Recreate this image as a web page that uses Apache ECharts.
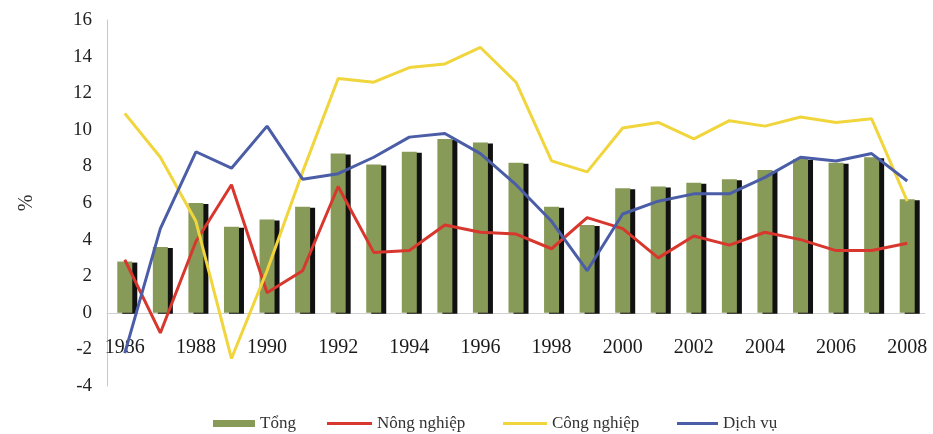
<!DOCTYPE html>
<html><head><meta charset="utf-8">
<script src="https://cdn.jsdelivr.net/npm/echarts@6/dist/echarts.min.js"></script>
<style>html,body{margin:0;padding:0;background:#fff}#c{width:933px;height:434px}</style>
</head><body><div id="c"></div>
<script>
const years = ['1986','1987','1988','1989','1990','1991','1992','1993','1994','1995','1996','1997','1998','1999','2000','2001','2002','2003','2004','2005','2006','2007','2008'];
const tong = [2.8,3.6,6.0,4.7,5.1,5.8,8.7,8.1,8.8,9.5,9.3,8.2,5.8,4.8,6.8,6.9,7.1,7.3,7.8,8.4,8.2,8.5,6.2];
const nongNghiep = [2.9,-1.1,3.9,7.0,1.1,2.3,6.9,3.3,3.4,4.8,4.4,4.3,3.5,5.2,4.6,3.0,4.2,3.7,4.4,4.0,3.4,3.4,3.8];
const congNghiep = [10.9,8.5,5.0,-2.5,2.3,7.7,12.8,12.6,13.4,13.6,14.5,12.6,8.3,7.7,10.1,10.4,9.5,10.5,10.2,10.7,10.4,10.6,6.1];
const dichVu = [-2.2,4.6,8.8,7.9,10.2,7.3,7.6,8.5,9.6,9.8,8.7,7.0,5.0,2.3,5.4,6.1,6.5,6.5,7.4,8.5,8.3,8.7,7.2];
const yTicks = [-4,16,2];
const font = 'Liberation Serif';
const gridTop = 20, gridBottom = 48, H = 434;
const plotH = H - gridTop - gridBottom;
// distance of the zero line above the bottom of the plot, from the value range
const zeroShift = plotH * (0 - yTicks[0]) / (yTicks[1] - yTicks[0]);
const chart = echarts.init(document.getElementById('c'));
const legendText = {fontFamily: font, fontSize: 17, color: '#333'};
const lg = {bottom: 2, padding: 0, textStyle: legendText};
chart.setOption({
  animation: false,
  grid: {left: 107, right: 8, top: gridTop, bottom: gridBottom},
  legend: [
    Object.assign({data: [{name: 'Tổng', icon: 'rect'}], left: 213, itemWidth: 42, itemHeight: 7}, lg),
    Object.assign({data: [{name: 'Nông nghiệp', icon: 'rect'}], left: 327, itemWidth: 45, itemHeight: 3}, lg),
    Object.assign({data: [{name: 'Công nghiệp', icon: 'rect'}], left: 503, itemWidth: 44, itemHeight: 3}, lg),
    Object.assign({data: [{name: 'Dịch vụ', icon: 'rect'}], left: 677, itemWidth: 41, itemHeight: 3}, lg)
  ],
  xAxis: {
    type: 'category', data: years,
    offset: -zeroShift,
    axisLine: {onZero: false, lineStyle: {color: '#d0d0d0', width: 1}},
    axisTick: {show: false},
    axisLabel: {interval: 1, margin: 25, fontFamily: font, fontSize: 20, color: '#1a1a1a'}
  },
  yAxis: {
    type: 'value', min: yTicks[0], max: yTicks[1], interval: yTicks[2],
    name: '%', nameLocation: 'middle', nameGap: 70, nameRotate: 90,
    nameTextStyle: {fontFamily: font, fontSize: 20, color: '#333'},
    axisLine: {show: true, lineStyle: {color: '#c8c8c8'}},
    axisTick: {show: false},
    splitLine: {show: false},
    axisLabel: {margin: 15, fontFamily: font, fontSize: 19, color: '#222'}
  },
  series: [
    {name: 'Tổng', type: 'bar', data: tong, barWidth: 15,
      itemStyle: {color: '#879a57', shadowColor: '#111', shadowOffsetX: 5, shadowOffsetY: 1, shadowBlur: 0}},
    {name: 'Nông nghiệp', type: 'line', data: nongNghiep, symbol: 'none', lineStyle: {color: '#d8372e', width: 3}, itemStyle: {color: '#d8372e'}},
    {name: 'Công nghiệp', type: 'line', data: congNghiep, symbol: 'none', lineStyle: {color: '#f0d53c', width: 3}, itemStyle: {color: '#f0d53c'}},
    {name: 'Dịch vụ', type: 'line', data: dichVu, symbol: 'none', lineStyle: {color: '#4a5da6', width: 3}, itemStyle: {color: '#4a5da6'}}
  ]
});
</script></body></html>
